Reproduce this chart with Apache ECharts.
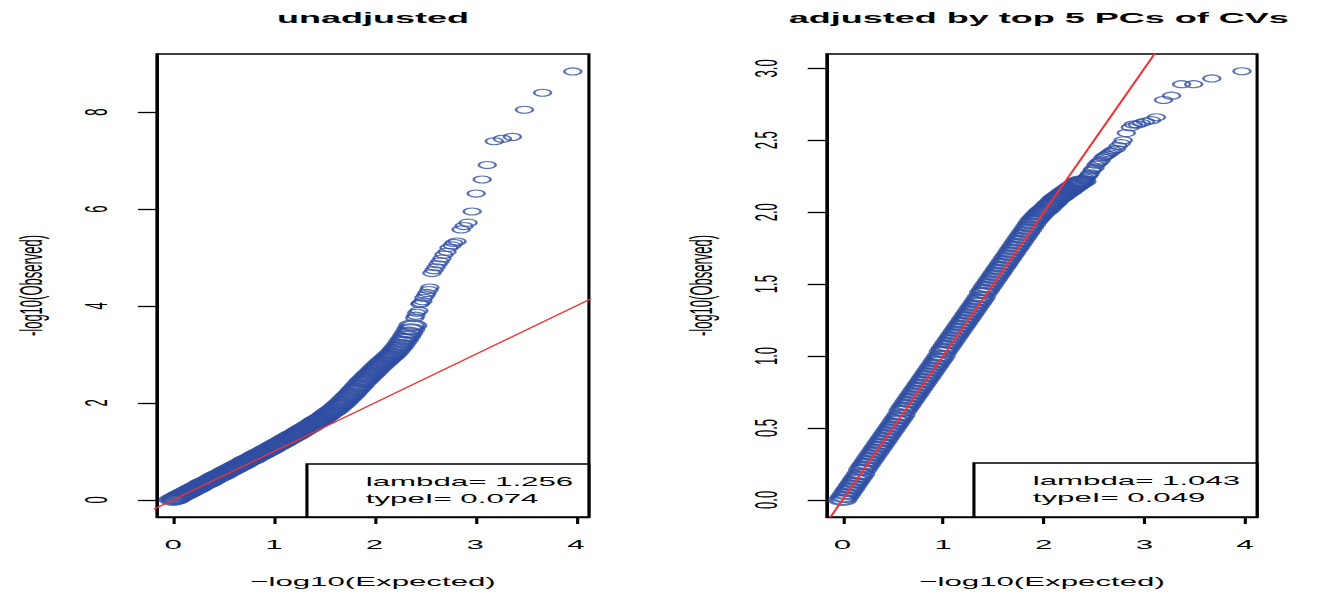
<!DOCTYPE html>
<html>
<head>
<meta charset="utf-8">
<title>QQ plots</title>
<script src="https://cdn.jsdelivr.net/npm/echarts@6.0.0/dist/echarts.min.js"></script>
<style>
    html, body { margin: 0; padding: 0; background: #fff; overflow: hidden; }
    /* the source R figure was stretched ~2.4x sideways, so draw it narrow and stretch it */
    #main { width: 550px; height: 597px; transform: scaleX(2.4018); transform-origin: 0 0; }
</style>
</head>
<body>
<div id="main"></div>
<script>
    // expected -log10(p), sampled along the dense part of both curves
    const expectedDense = [
        0.00, 0.02, 0.04, 0.06, 0.08, 0.10, 0.12, 0.14, 0.16, 0.18,
        0.20, 0.22, 0.24, 0.26, 0.28, 0.30, 0.32, 0.34, 0.36, 0.38,
        0.40, 0.42, 0.44, 0.46, 0.48, 0.50, 0.52, 0.54, 0.56, 0.58,
        0.60, 0.62, 0.64, 0.66, 0.68, 0.70, 0.72, 0.74, 0.76, 0.78,
        0.80, 0.82, 0.84, 0.86, 0.88, 0.90, 0.92, 0.94, 0.96, 0.98,
        1.00, 1.02, 1.04, 1.06, 1.08, 1.10, 1.12, 1.14, 1.16, 1.18,
        1.20, 1.22, 1.24, 1.26, 1.28, 1.30, 1.32, 1.34, 1.36, 1.38,
        1.40, 1.42, 1.44, 1.46, 1.48, 1.50, 1.52, 1.54, 1.56, 1.58,
        1.60, 1.62, 1.64, 1.66, 1.68, 1.70, 1.72, 1.74, 1.76, 1.78,
        1.80, 1.82, 1.84, 1.86, 1.88, 1.90, 1.92, 1.94, 1.96, 1.98,
        2.00, 2.02, 2.04, 2.06, 2.08, 2.10, 2.12, 2.14, 2.16, 2.18,
        2.20, 2.22, 2.24, 2.26, 2.28, 2.30, 2.32, 2.34, 2.36, 2.38
    ];
    const observedUnadjDense = [
        0.00, 0.02, 0.04, 0.07, 0.09, 0.11, 0.13, 0.15, 0.17, 0.20,
        0.22, 0.24, 0.26, 0.28, 0.31, 0.33, 0.35, 0.37, 0.39, 0.41,
        0.44, 0.46, 0.48, 0.50, 0.52, 0.54, 0.57, 0.59, 0.61, 0.63,
        0.65, 0.68, 0.70, 0.72, 0.74, 0.76, 0.79, 0.81, 0.83, 0.85,
        0.87, 0.90, 0.92, 0.94, 0.96, 0.98, 1.01, 1.03, 1.05, 1.07,
        1.10, 1.12, 1.14, 1.17, 1.19, 1.21, 1.24, 1.26, 1.28, 1.31,
        1.33, 1.35, 1.38, 1.40, 1.43, 1.45, 1.48, 1.50, 1.53, 1.55,
        1.58, 1.61, 1.63, 1.66, 1.68, 1.71, 1.74, 1.77, 1.80, 1.83,
        1.86, 1.89, 1.93, 1.96, 2.00, 2.04, 2.08, 2.12, 2.16, 2.20,
        2.25, 2.29, 2.34, 2.38, 2.43, 2.47, 2.51, 2.55, 2.59, 2.63,
        2.67, 2.71, 2.75, 2.79, 2.83, 2.86, 2.90, 2.94, 2.97, 3.01,
        3.05, 3.10, 3.15, 3.20, 3.26, 3.32, 3.38, 3.45, 3.52, 3.60
    ];
    const observedAdjDense = [
        0.00, 0.02, 0.04, 0.06, 0.08, 0.10, 0.12, 0.14, 0.16, 0.18,
        0.21, 0.23, 0.25, 0.27, 0.29, 0.31, 0.33, 0.35, 0.37, 0.39,
        0.41, 0.43, 0.45, 0.47, 0.49, 0.51, 0.53, 0.55, 0.57, 0.59,
        0.62, 0.64, 0.66, 0.68, 0.70, 0.72, 0.74, 0.76, 0.78, 0.80,
        0.82, 0.84, 0.86, 0.88, 0.90, 0.92, 0.94, 0.96, 0.98, 1.00,
        1.03, 1.05, 1.07, 1.09, 1.11, 1.13, 1.15, 1.17, 1.19, 1.21,
        1.23, 1.25, 1.27, 1.29, 1.31, 1.33, 1.35, 1.37, 1.39, 1.41,
        1.44, 1.46, 1.48, 1.50, 1.52, 1.54, 1.56, 1.58, 1.60, 1.62,
        1.64, 1.66, 1.68, 1.70, 1.72, 1.74, 1.76, 1.78, 1.80, 1.82,
        1.84, 1.86, 1.88, 1.90, 1.92, 1.94, 1.955, 1.97, 1.985, 2.00,
        2.01, 2.02, 2.035, 2.05, 2.06, 2.075, 2.09, 2.10, 2.11, 2.12,
        2.13, 2.14, 2.15, 2.16, 2.17, 2.18, 2.19, 2.20, 2.21, 2.215
    ];

    // the 37 most significant points, one by one
    const expectedTail = [
        2.40, 2.41, 2.42, 2.44, 2.45, 2.46, 2.48, 2.49, 2.51, 2.52,
        2.54, 2.55, 2.57, 2.59, 2.61, 2.63, 2.65, 2.67, 2.69, 2.72,
        2.74, 2.77, 2.79, 2.82, 2.86, 2.89, 2.93, 2.97, 3.01, 3.07,
        3.12, 3.19, 3.27, 3.37, 3.49, 3.67, 3.97
    ];
    const observedUnadjTail = [
        3.75, 3.80, 3.86, 3.90, 4.04, 4.06, 4.10, 4.17, 4.22, 4.27,
        4.33, 4.38, 4.68, 4.74, 4.80, 4.86, 4.92, 4.98, 5.06, 5.12,
        5.20, 5.25, 5.30, 5.33, 5.58, 5.65, 5.72, 5.95, 6.32, 6.61,
        6.91, 7.40, 7.45, 7.49, 8.05, 8.40, 8.84
    ];
    const observedAdjTail = [
        2.22, 2.23, 2.24, 2.25, 2.26, 2.27, 2.29, 2.30, 2.31, 2.33,
        2.34, 2.35, 2.36, 2.38, 2.39, 2.40, 2.41, 2.42, 2.43, 2.44,
        2.46, 2.48, 2.50, 2.55, 2.59, 2.61, 2.61, 2.62, 2.63, 2.64,
        2.66, 2.78, 2.81, 2.89, 2.89, 2.93, 2.98
    ];

    const xTicks = [0, 1, 2, 3, 4];
    const yTicksUnadj = [0, 2, 4, 6, 8];
    const yTicksAdj = [0, 0.5, 1, 1.5, 2, 2.5, 3];
    const diagonal = [-1, 10];

    const titles = ['unadjusted', 'adjusted by top 5 PCs of CVs'];
    const statsUnadj = ['lambda= 1.256', 'typeI= 0.074'];
    const statsAdj = ['lambda= 1.043', 'typeI= 0.049'];

    const font = '"Liberation Sans", Arial, Helvetica, sans-serif';
    const blue = '#2e4ea2';
    const red = '#f03232';

    function pairs(xs, ys) {
        return xs.map((x, i) => [x, ys[i]]);
    }

    const axisLine = {show: true, onZero: false, lineStyle: {color: '#000', width: 1.3}};

    function xAxisFor(gridIndex, min, max) {
        return {
            type: 'value', gridIndex, min, max,
            name: '\u2212log10(Expected)', nameLocation: 'middle', nameGap: 58,
            nameTextStyle: {fontFamily: font, fontSize: 13, color: '#000'},
            splitLine: {show: false},
            axisLine,
            axisTick: {show: true, length: 7, customValues: xTicks, lineStyle: {color: '#000', width: 1.3}},
            axisLabel: {customValues: xTicks, margin: 21, fontFamily: font, fontSize: 13, color: '#000'}
        };
    }

    function yAxisFor(gridIndex, min, max, ticks, digits) {
        return {
            type: 'value', gridIndex, min, max,
            name: '-log10(Observed)', nameLocation: 'middle', nameGap: 46,
            nameTextStyle: {fontFamily: font, fontSize: 13, color: '#000'},
            splitLine: {show: false},
            axisLine,
            axisTick: {show: true, length: 8, customValues: ticks, lineStyle: {color: '#000', width: 1.3}},
            axisLabel: {
                customValues: ticks, rotate: 90, margin: 19,
                fontFamily: font, fontSize: 13, color: '#000',
                formatter: v => v.toFixed(digits)
            }
        };
    }

    function statsBox(x, y, w, h, lines) {
        return {
            type: 'group', x, y,
            children: [
                {type: 'rect', shape: {x: 0, y: 0, width: w, height: h},
                 style: {fill: '#fff', stroke: '#000', lineWidth: 1.3}},
                {type: 'text', x: 24.5, y: 17,
                 style: {text: lines[0], font: '13px ' + font, fill: '#000', verticalAlign: 'middle'}},
                {type: 'text', x: 24.5, y: 34,
                 style: {text: lines[1], font: '13px ' + font, fill: '#000', verticalAlign: 'middle'}}
            ]
        };
    }

    // dense part: many overlapping rings, drawn a little heavier so they merge into a band
    const denseStyle = {color: 'rgba(0,0,0,0)', borderColor: blue, borderWidth: 2.1};
    const tailStyle = {color: 'rgba(0,0,0,0)', borderColor: blue, borderWidth: 1.1};

    function qqSeries(axis, xs, ys, size, style) {
        return {type: 'scatter', xAxisIndex: axis, yAxisIndex: axis, symbol: 'circle',
                symbolSize: size, itemStyle: style, silent: true, data: pairs(xs, ys)};
    }

    function refLine(axis) {
        return {type: 'line', xAxisIndex: axis, yAxisIndex: axis, showSymbol: false, silent: true, z: 3,
                lineStyle: {color: red, width: 1}, data: diagonal.map(v => [v, v])};
    }

    const chart = echarts.init(document.getElementById('main'), null, {renderer: 'svg'});
    chart.setOption({
        animation: false,
        backgroundColor: '#fff',
        title: [
            {text: titles[0], left: 155.3, top: 10, textAlign: 'center', padding: 0,
             textStyle: {fontFamily: font, fontSize: 15, fontWeight: 'bold', color: '#000'}},
            {text: titles[1], left: 432.5, top: 10, textAlign: 'center', padding: 0,
             textStyle: {fontFamily: font, fontSize: 15, fontWeight: 'bold', color: '#000'}}
        ],
        grid: [
            {left: 65.4, top: 54, width: 179.8, height: 463, show: true, borderColor: '#000', borderWidth: 1.3},
            {left: 344.3, top: 54, width: 179.1, height: 463, show: true, borderColor: '#000', borderWidth: 1.3}
        ],
        xAxis: [
            xAxisFor(0, -0.16, 4.13),
            xAxisFor(1, -0.155, 4.12)
        ],
        yAxis: [
            yAxisFor(0, -0.354, 9.2, yTicksUnadj, 0),
            yAxisFor(1, -0.119, 3.1, yTicksAdj, 1)
        ],
        graphic: [
            statsBox(127.8, 464, 117.4, 53, statsUnadj),
            statsBox(405.5, 463, 117.9, 54, statsAdj)
        ],
        series: [
            qqSeries(0, expectedDense, observedUnadjDense, 10, denseStyle),
            qqSeries(0, expectedTail, observedUnadjTail, 7, tailStyle),
            refLine(0),
            qqSeries(1, expectedDense, observedAdjDense, 10, denseStyle),
            qqSeries(1, expectedTail, observedAdjTail, 7, tailStyle),
            refLine(1)
        ]
    });
</script>
</body>
</html>
